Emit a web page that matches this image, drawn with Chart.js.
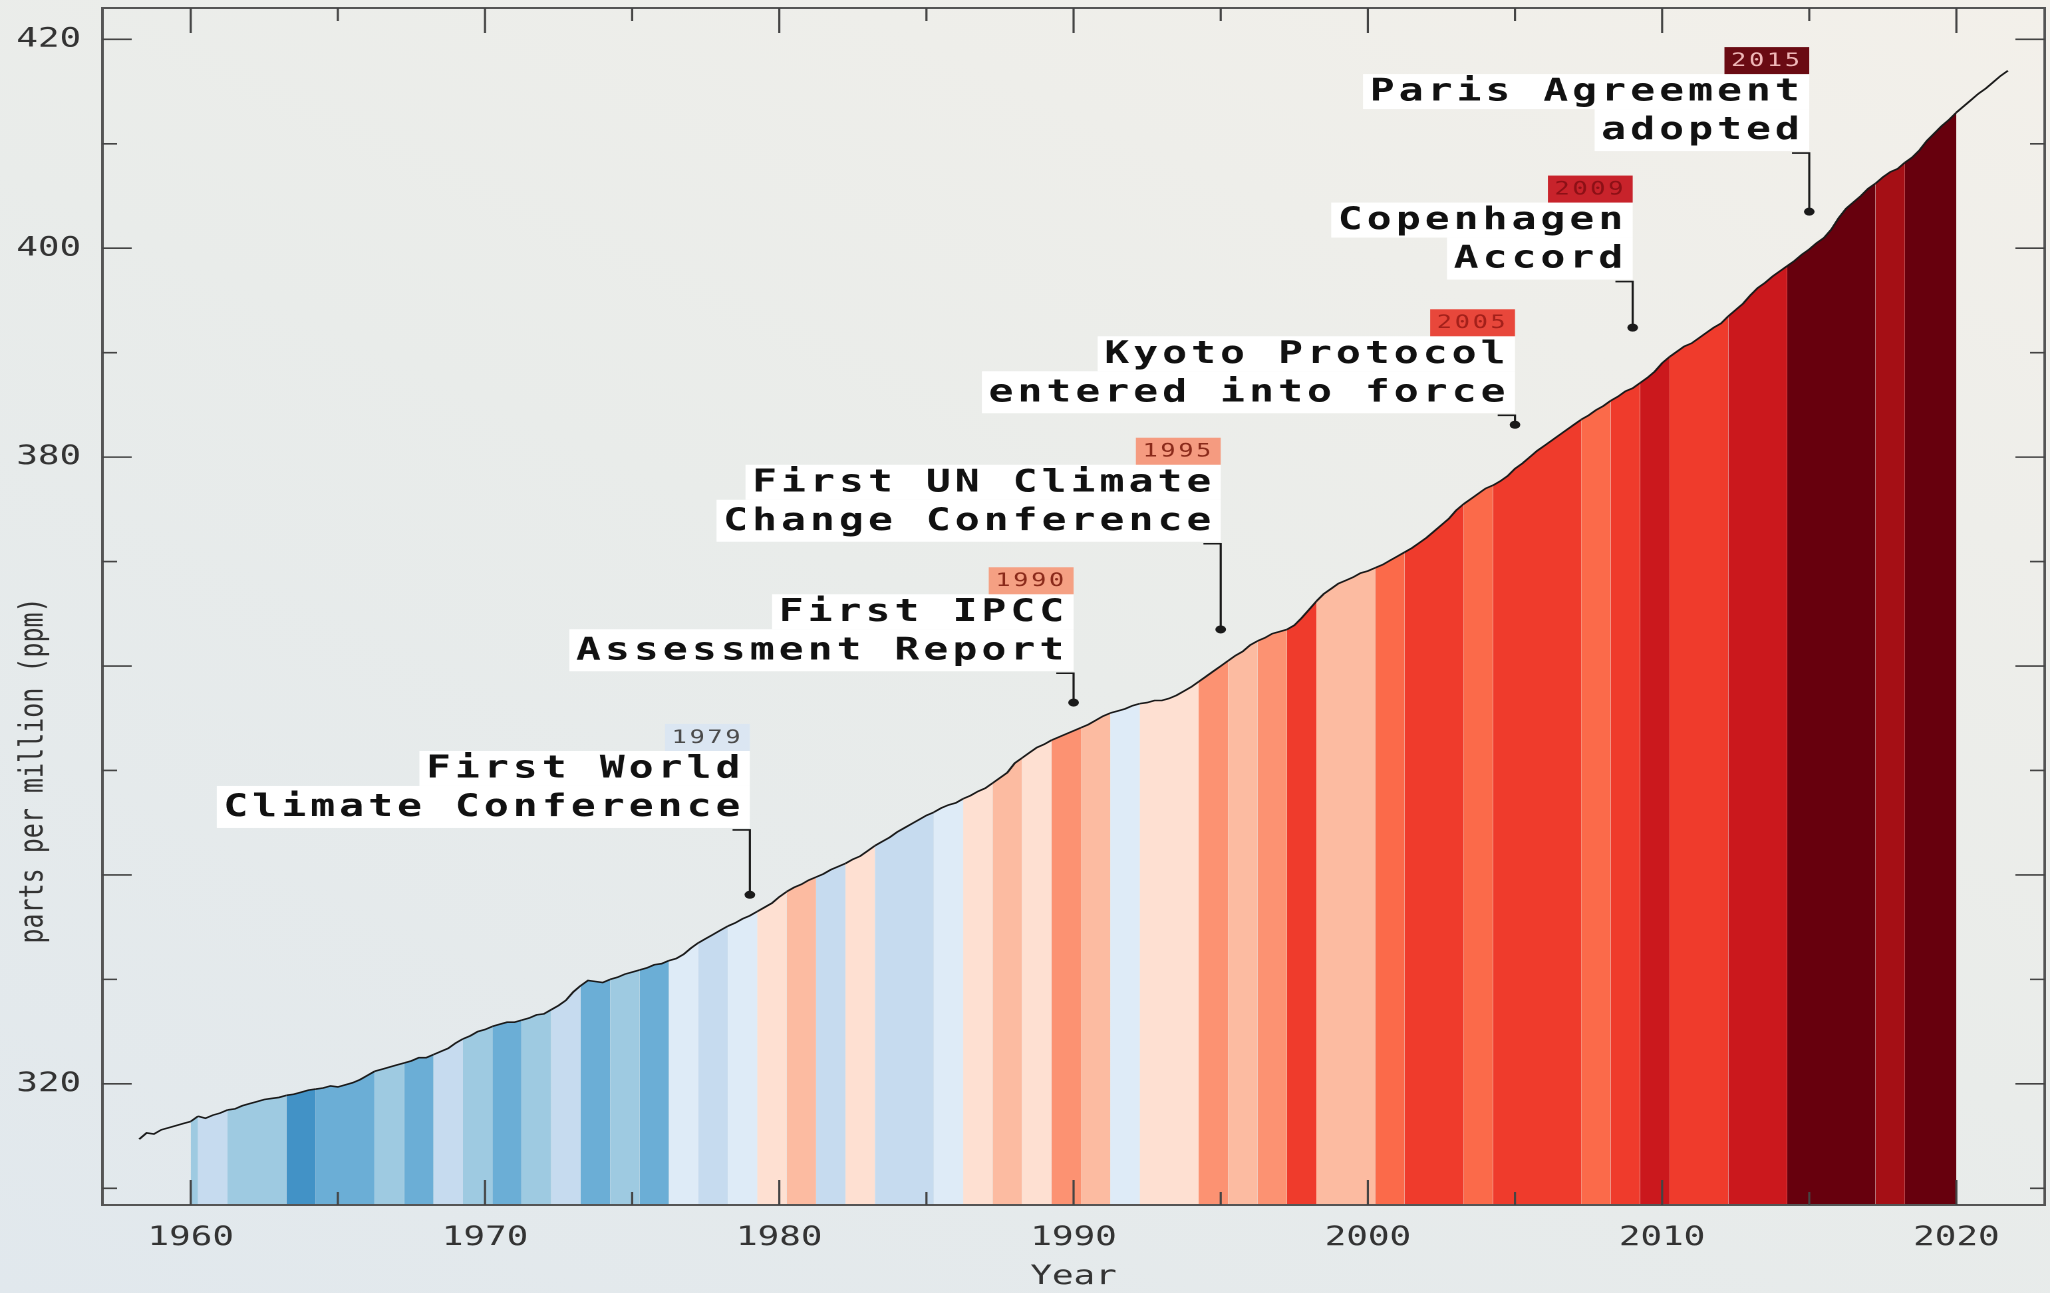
<!DOCTYPE html>
<html>
<head>
<meta charset="utf-8">
<script src="https://cdn.jsdelivr.net/npm/chart.js@4.4.1/dist/chart.umd.min.js"></script>
<style>
  html, body { margin: 0; padding: 0; width: 2050px; height: 1293px; overflow: hidden; }
  body { background: linear-gradient(25deg, #e1e8ed 0%, #e9ecea 50%, #f3f0ea 100%); }
  /* the reference is stretched sideways, so the whole chart is too */
  #wrap { position: absolute; left: 0; top: 0; width: 1541px; height: 1293px;
          transform: scaleX(1.3303); transform-origin: 0 0; }
</style>
</head>
<body>
<div id="wrap"><canvas id="chart" width="1541" height="1293"></canvas></div>
<script>
// axis ticks
const xTickYears = [1960, 1970, 1980, 1990, 2000, 2010, 2020];
const yTickValues = [320, 380, 400, 420];

// CO2 (ppm), one value every quarter year from 1958.25 on
const co2Start = 1958.25;
const co2Quarterly = [
  314.7, 315.3, 315.2,
  315.6, 315.8, 316.0, 316.2,
  316.4, 316.9, 316.7, 317.0,
  317.2, 317.5, 317.6, 317.9,
  318.1, 318.3, 318.5, 318.6,
  318.7, 318.9, 319.0, 319.2,
  319.4, 319.5, 319.6, 319.8,
  319.7, 319.9, 320.1, 320.4,
  320.8, 321.2, 321.4, 321.6,
  321.8, 322.0, 322.2, 322.5,
  322.5, 322.8, 323.1, 323.4,
  323.9, 324.3, 324.6, 325.0,
  325.2, 325.5, 325.7, 325.9,
  325.9, 326.1, 326.3, 326.6,
  326.7, 327.1, 327.5, 328.0,
  328.8, 329.4, 329.9, 329.8,
  329.7, 330.0, 330.2, 330.5,
  330.7, 330.9, 331.1, 331.4,
  331.5, 331.8, 332.0, 332.4,
  333.0, 333.5, 333.9, 334.3,
  334.7, 335.1, 335.4, 335.8,
  336.1, 336.5, 336.9, 337.3,
  337.9, 338.4, 338.8, 339.1,
  339.5, 339.8, 340.1, 340.5,
  340.8, 341.1, 341.5, 341.8,
  342.3, 342.8, 343.2, 343.6,
  344.1, 344.5, 344.9, 345.3,
  345.7, 346.0, 346.4, 346.7,
  346.9, 347.3, 347.6, 348.0,
  348.3, 348.8, 349.3, 349.8,
  350.7, 351.2, 351.7, 352.2,
  352.5, 352.9, 353.2, 353.5,
  353.8, 354.1, 354.4, 354.8,
  355.2, 355.5, 355.7, 355.9,
  356.2, 356.4, 356.5, 356.7,
  356.7, 356.9, 357.2, 357.6,
  358.0, 358.5, 359.0, 359.5,
  360.0, 360.5, 361.0, 361.4,
  362.0, 362.4, 362.7, 363.1,
  363.3, 363.5, 363.9, 364.6,
  365.4, 366.2, 366.9, 367.4,
  367.9, 368.2, 368.5, 368.9,
  369.1, 369.4, 369.7, 370.1,
  370.5, 370.9, 371.3, 371.8,
  372.3, 372.9, 373.5, 374.1,
  374.9, 375.5, 376.0, 376.5,
  377.0, 377.3, 377.7, 378.2,
  378.9, 379.4, 380.0, 380.6,
  381.1, 381.6, 382.1, 382.6,
  383.1, 383.6, 384.0, 384.5,
  384.9, 385.4, 385.8, 386.3,
  386.6, 387.1, 387.6, 388.2,
  389.0, 389.6, 390.1, 390.6,
  390.9, 391.4, 391.9, 392.4,
  392.8, 393.5, 394.1, 394.7,
  395.5, 396.2, 396.7, 397.3,
  397.8, 398.3, 398.8, 399.4,
  399.9, 400.5, 401.0, 401.8,
  402.9, 403.8, 404.4, 405.0,
  405.7, 406.2, 406.8, 407.3,
  407.6, 408.2, 408.7, 409.4,
  410.3, 411.0, 411.7, 412.3,
  413.0, 413.6, 414.2, 414.8,
  415.3, 415.9, 416.5, 417.0
];

// warming stripes: 1960.0-1960.25, then one per year from x.25, last one ends at 2020.0
const stripeFrom = 1960, stripeTo = 2020, stripeOffset = 1959.25;
const B1 = '#4292c6', B2 = '#6baed6', B3 = '#9ecae1', B4 = '#c6dbef', B5 = '#deebf7';
const R1 = '#fee0d2', R2 = '#fcbba1', R3 = '#fc9272', R4 = '#fb6a4a', R5 = '#ef3b2c';
const R6 = '#cb181d', R7 = '#a50f15', R8 = '#67000d';
const stripeColors = [
  B3, B4, B3, B3, B1, B2, B2, B3, B2, B4,
  B3, B2, B3, B4, B2, B3, B2, B5, B4, B5,
  R1, R2, B4, R1, B4, B4, B5, R1, R2, R1,
  R3, R2, B5, R1, R1, R3, R2, R3, R5, R2,
  R2, R4, R5, R5, R4, R5, R5, R5, R4, R5,
  R6, R5, R5, R6, R6, R8, R8, R8, R7, R8,
  R8
];

// events
const eventYears = [1979, 1990, 1995, 2005, 2009, 2015];
const eventLines = [
  ['First World', 'Climate Conference'],
  ['First IPCC', 'Assessment Report'],
  ['First UN Climate', 'Change Conference'],
  ['Kyoto Protocol', 'entered into force'],
  ['Copenhagen', 'Accord'],
  ['Paris Agreement', 'adopted']
];
const eventDotPpm = [338.1, 356.5, 363.5, 383.1, 392.4, 403.5];
const eventBoxPpm = [344.5, 359.5, 371.9, 384.2, 397.0, 409.3];
const eventTagBg = ['#dbe6f2', '#f5a083', '#f59b80', '#e8473b', '#c8232b', '#6a0b13'];
const eventTagFg = ['#4a4a4a', '#8a2a1a', '#8a2a1a', '#a3201a', '#8c1016', '#f0b8b8'];

const points = co2Quarterly.map((v, i) => ({ x: co2Start + i * 0.25, y: v }));

function stripeColor(x0) {
  if (x0 < stripeFrom || x0 >= stripeTo) return 'rgba(0,0,0,0)';
  return stripeColors[Math.floor(x0 - stripeOffset)];
}

const MONO = '"DejaVu Sans Mono", "Liberation Mono", monospace';

const decor = {
  id: 'decor',
  afterDatasetsDraw(chart) {
    const { ctx, chartArea: a, scales: { x, y } } = chart;
    ctx.save();

    // frame
    ctx.strokeStyle = '#555';
    ctx.lineWidth = 2;
    ctx.strokeRect(a.left, a.top, a.right - a.left, a.bottom - a.top);

    // inward ticks on all four sides
    ctx.strokeStyle = '#444';
    ctx.lineWidth = 1.6;
    ctx.beginPath();
    for (let v = 1960; v <= 2020; v += 5) {
      const px = x.getPixelForValue(v);
      const len = v % 10 === 0 ? 25 : 13;
      ctx.moveTo(px, a.bottom); ctx.lineTo(px, a.bottom - len);
      ctx.moveTo(px, a.top); ctx.lineTo(px, a.top + len);
    }
    for (let v = 310; v <= 420; v += 10) {
      const py = y.getPixelForValue(v);
      const len = v % 20 === 0 ? 22 : 11;
      ctx.moveTo(a.left, py); ctx.lineTo(a.left + len, py);
      ctx.moveTo(a.right, py); ctx.lineTo(a.right - len, py);
    }
    ctx.stroke();

    // y title, centred on 350 ppm like the reference
    ctx.save();
    ctx.translate(25.6, y.getPixelForValue(350));
    ctx.rotate(-Math.PI / 2);
    ctx.font = '25px ' + MONO;
    ctx.fillStyle = '#333';
    ctx.textAlign = 'center';
    ctx.textBaseline = 'middle';
    ctx.fillText('parts per million (ppm)', 0, 0);
    ctx.restore();

    // annotations
    eventYears.forEach((yr, i) => {
      const dx = x.getPixelForValue(yr);
      const dy = y.getPixelForValue(eventDotPpm[i]);
      const b = y.getPixelForValue(eventBoxPpm[i]);

      ctx.strokeStyle = '#1a1a1a';
      ctx.lineWidth = 1.6;
      ctx.beginPath();
      ctx.moveTo(dx - 13, b + 2);
      ctx.lineTo(dx, b + 2);
      ctx.lineTo(dx, dy);
      ctx.stroke();
      ctx.fillStyle = '#1a1a1a';
      ctx.beginPath();
      ctx.arc(dx, dy, 4, 0, 2 * Math.PI);
      ctx.fill();

      ctx.font = 'bold 31px ' + MONO;
      ctx.letterSpacing = '3.1px';
      ctx.textBaseline = 'middle';
      ctx.textAlign = 'left';
      const rows = [[b - 77, b - 42], [b - 42, b]];
      eventLines[i].forEach((t, j) => {
        const w = ctx.measureText(t).width;
        const [top, bot] = rows[j];
        ctx.fillStyle = '#ffffff';
        ctx.fillRect(dx - w - 9, top, w + 9, bot - top);
        ctx.fillStyle = '#111';
        ctx.fillText(t, dx - w - 4, (top + bot) / 2 + 1);
      });

      ctx.font = '19px ' + MONO;
      ctx.letterSpacing = '2px';
      const tag = String(yr);
      const tw = ctx.measureText(tag).width;
      ctx.fillStyle = eventTagBg[i];
      ctx.fillRect(dx - tw - 10, b - 104, tw + 10, 27);
      ctx.fillStyle = eventTagFg[i];
      ctx.fillText(tag, dx - tw - 5, b - 90);
    });
    ctx.letterSpacing = '0px';
    ctx.restore();
  }
};

new Chart(document.getElementById('chart'), {
  type: 'line',
  data: {
    datasets: [{
      data: points,
      borderColor: '#1a1a1a',
      borderWidth: 1.6,
      backgroundColor: 'rgba(0,0,0,0)',
      fill: 'start',
      pointRadius: 0,
      tension: 0,
      segment: { backgroundColor: c => stripeColor(c.p0.parsed.x) }
    }]
  },
  options: {
    responsive: false,
    devicePixelRatio: 2,
    animation: false,
    layout: { padding: { top: 8, right: 4, left: 0, bottom: 0 } },
    plugins: { legend: { display: false }, tooltip: { enabled: false } },
    scales: {
      x: {
        type: 'linear',
        min: 1957,
        max: 2023,
        grid: { display: false, drawTicks: false },
        border: { display: false },
        afterBuildTicks: s => { s.ticks = xTickYears.map(v => ({ value: v })); },
        afterFit: s => { s.height = 88; s.paddingLeft = 0; s.paddingRight = 0; },
        ticks: {
          autoSkip: false, maxRotation: 0, padding: 17,
          color: '#333', font: { family: MONO, size: 27 },
          callback: v => String(v)
        },
        title: {
          display: true, text: 'Year', color: '#333',
          font: { family: MONO, size: 27 }, padding: { top: 0, bottom: 0 }
        }
      },
      y: {
        min: 308.4,
        max: 423,
        grid: { display: false, drawTicks: false },
        border: { display: false },
        afterBuildTicks: s => { s.ticks = yTickValues.map(v => ({ value: v })); },
        afterFit: s => { s.width = 77; s.paddingTop = 0; s.paddingBottom = 0; },
        ticks: {
          padding: 16, color: '#333', font: { family: MONO, size: 27 },
          callback: v => String(v)
        }
      }
    }
  },
  plugins: [decor]
});
</script>
</body>
</html>
